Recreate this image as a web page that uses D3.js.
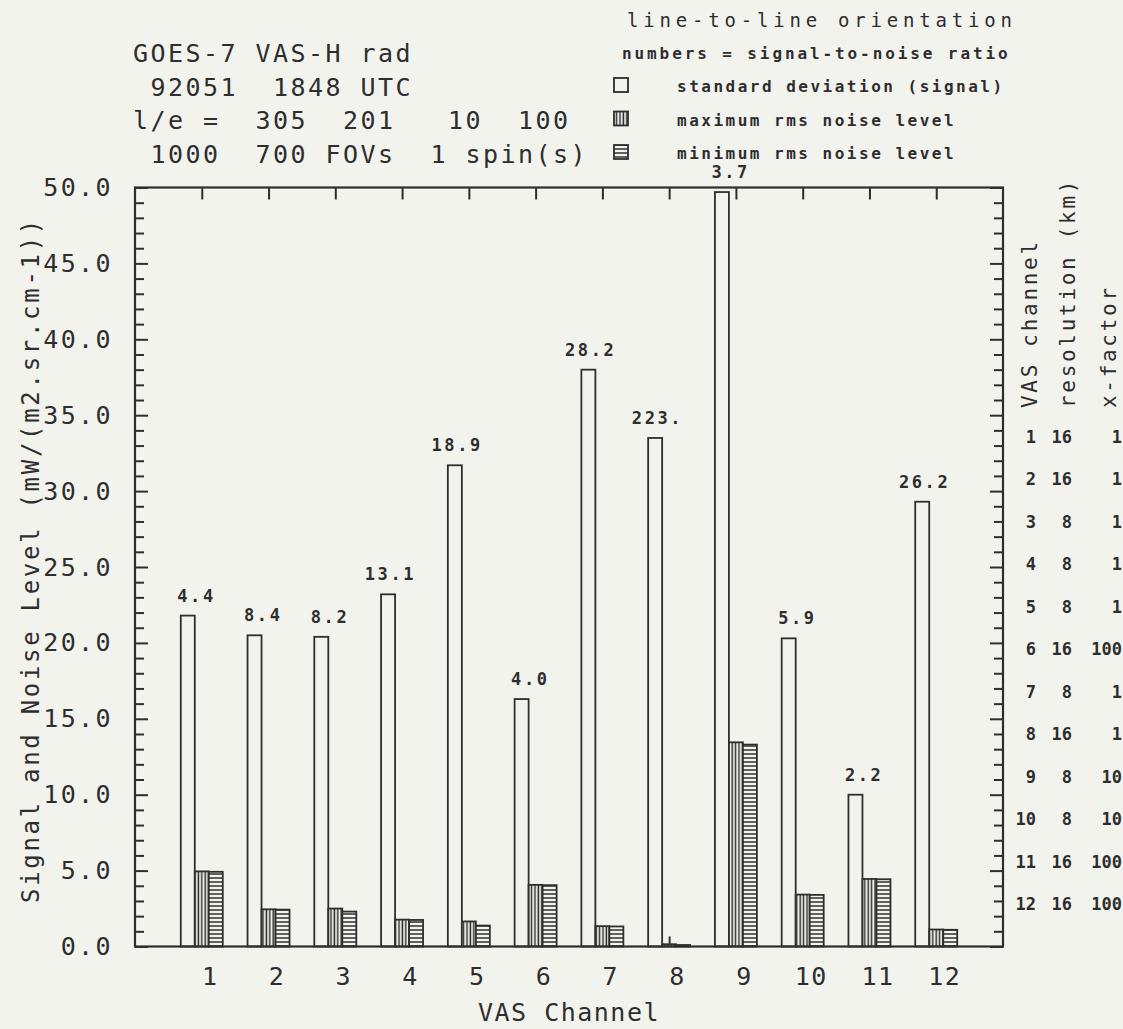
<!DOCTYPE html>
<html>
<head>
<meta charset="utf-8">
<script src="https://cdn.jsdelivr.net/npm/d3@7"></script>
<style>
  body { margin: 0; background: #f3f3ee; }
  svg text { font-family: "DejaVu Sans Mono", monospace; fill: #2e2e2e; white-space: pre; }
</style>
</head>
<body>
<svg id="chart" width="1123" height="1029"></svg>
<script>
// values
const channels   = [1, 2, 3, 4, 5, 6, 7, 8, 9, 10, 11, 12];
const signal     = [21.8, 20.5, 20.4, 23.2, 31.7, 16.3, 38.0, 33.5, 49.7, 20.3, 10.0, 29.3];
const maxNoise   = [4.95, 2.45, 2.5, 1.77, 1.65, 4.06, 1.34, 0.15, 13.45, 3.42, 4.45, 1.12];
const minNoise   = [4.92, 2.43, 2.3, 1.75, 1.38, 4.04, 1.32, 0.10, 13.3, 3.40, 4.43, 1.10];
const snrLabels  = ["4.4", "8.4", "8.2", "13.1", "18.9", "4.0", "28.2", "223.", "3.7", "5.9", "2.2", "26.2"];
const resolution = [16, 16, 8, 8, 8, 16, 8, 16, 8, 8, 16, 16];
const xFactor    = [1, 1, 1, 1, 1, 100, 1, 1, 10, 10, 100, 100];
const yMajor = d3.range(0, 50.01, 5);
const yMinor = d3.range(0, 51, 1).filter(v => v % 5 !== 0);

const headerLines = [
    "GOES-7 VAS-H rad",
    " 92051  1848 UTC",
    "l/e =  305  201   10  100",
    " 1000  700 FOVs  1 spin(s)"
];
const legendItems = [
    {key: "signal", label: "standard deviation (signal)"},
    {key: "max", label: "maximum rms noise level"},
    {key: "min", label: "minimum rms noise level"}
];

const ink = "#2e2e2e",
    paper = "#f3f3ee";

let svg = d3.select("#chart");

let x = d3.scaleLinear().domain([0, 13]).range([135, 1003]),
    y = d3.scaleLinear().domain([0, 50]).range([946.5, 187.5]);

let defs = svg.append("defs");
let vh = defs.append("pattern").attr("id", "vhatch")
    .attr("patternUnits", "userSpaceOnUse").attr("width", 3.4).attr("height", 10);
vh.append("rect").attr("width", 3.4).attr("height", 10).attr("fill", paper);
vh.append("line").attr("x1", 1.2).attr("x2", 1.2).attr("y1", 0).attr("y2", 10)
    .attr("stroke", ink).attr("stroke-width", 1.5);
let hh = defs.append("pattern").attr("id", "hhatch")
    .attr("patternUnits", "userSpaceOnUse").attr("width", 10).attr("height", 4);
hh.append("rect").attr("width", 10).attr("height", 4).attr("fill", paper);
hh.append("line").attr("x1", 0).attr("x2", 10).attr("y1", 2).attr("y2", 2)
    .attr("stroke", ink).attr("stroke-width", 1.5);

const fills = {signal: paper, max: "url(#vhatch)", min: "url(#hhatch)"};

function tickStyle(g) {
    g.select(".domain").remove();
    g.selectAll("line").attr("stroke", ink).attr("stroke-width", 2);
    g.selectAll("text").remove();
}

// bottom ticks first so the bars sit over them
svg.append("g").attr("transform", "translate(0," + y(0) + ")")
    .call(d3.axisTop(x).tickValues(channels).tickSize(10)).call(tickStyle);

// bars
let half = 21 / (x(1) - x(0)), step = 14 / (x(1) - x(0));
let groups = svg.append("g").selectAll("g").data(channels).enter().append("g");
[["signal", signal, 0], ["max", maxNoise, 1], ["min", minNoise, 2]].forEach(([key, vals, k]) => {
    groups.append("rect")
        .attr("x", (d, i) => x(d - half + k * step))
        .attr("width", x(step) - x(0))
        .attr("y", (d, i) => y(vals[i]))
        .attr("height", (d, i) => y(0) - y(vals[i]))
        .attr("fill", fills[key])
        .attr("stroke", ink)
        .attr("stroke-width", 1.8);
});

// signal-to-noise labels
groups.append("text")
    .attr("x", d => x(d - half + step / 2) + 28)
    .attr("y", (d, i) => y(signal[i]) - 14)
    .attr("text-anchor", "end")
    .style("font-size", "17px").style("font-weight", "bold").style("letter-spacing", "2.6px")
    .text((d, i) => snrLabels[i]);

// frame and ticks
svg.append("rect")
    .attr("x", x(0)).attr("y", y(50))
    .attr("width", x(13) - x(0)).attr("height", y(0) - y(50))
    .attr("fill", "none").attr("stroke", ink).attr("stroke-width", 2.2);

svg.append("g").attr("transform", "translate(" + x(0) + ",0)")
    .call(d3.axisRight(y).tickValues(yMajor).tickSize(13)).call(tickStyle);
svg.append("g").attr("transform", "translate(" + x(0) + ",0)")
    .call(d3.axisRight(y).tickValues(yMinor).tickSize(9)).call(tickStyle);
svg.append("g").attr("transform", "translate(" + x(13) + ",0)")
    .call(d3.axisLeft(y).tickValues(yMajor).tickSize(13)).call(tickStyle);
svg.append("g").attr("transform", "translate(" + x(13) + ",0)")
    .call(d3.axisLeft(y).tickValues(yMinor).tickSize(9)).call(tickStyle);
svg.append("g").attr("transform", "translate(0," + y(50) + ")")
    .call(d3.axisBottom(x).tickValues(channels).tickSize(12)).call(tickStyle);

// y tick labels
let yLab = svg.append("g").attr("transform", "translate(113,0)")
    .call(d3.axisLeft(y).tickValues(yMajor).tickSize(0).tickPadding(0).tickFormat(d3.format(".1f")));
yLab.select(".domain").remove();
yLab.selectAll("text").style("font-size", "25px").style("letter-spacing", "2.4px");

// x tick labels
let xLab = svg.append("g").attr("transform", "translate(8," + y(0) + ")")
    .call(d3.axisBottom(x).tickValues(channels).tickSize(0));
xLab.select(".domain").remove();
xLab.selectAll("text").attr("y", 38.5).attr("dy", 0)
    .style("font-size", "25px").style("letter-spacing", "1.5px");

// axis titles
svg.append("text")
    .attr("x", 569).attr("y", 1021).attr("text-anchor", "middle")
    .style("font-size", "25px").style("letter-spacing", "1.5px")
    .text("VAS Channel");
svg.append("text")
    .attr("transform", "translate(39,560) rotate(-90)").attr("text-anchor", "middle")
    .style("font-size", "24px").style("letter-spacing", "2.7px")
    .text("Signal and Noise Level (mW/(m2.sr.cm-1))");

// header block
svg.append("g").selectAll("text").data(headerLines).enter().append("text")
    .attr("x", 133).attr("y", (d, i) => 62 + i * 33.7)
    .style("font-size", "25px").style("letter-spacing", "2.45px")
    .text(d => d);

// legend
svg.append("text").attr("x", 627).attr("y", 27)
    .style("font-size", "19px").style("letter-spacing", "4.8px")
    .text("line-to-line orientation");
svg.append("text").attr("x", 622).attr("y", 59)
    .style("font-size", "16px").style("font-weight", "bold").style("letter-spacing", "2.9px")
    .text("numbers = signal-to-noise ratio");
let leg = svg.append("g").selectAll("g").data(legendItems).enter().append("g")
    .attr("transform", (d, i) => "translate(0," + [92, 125.5, 159][i] + ")");
leg.append("rect").attr("x", 614).attr("y", -14).attr("width", 14).attr("height", 14)
    .attr("fill", d => fills[d.key]).attr("stroke", ink).attr("stroke-width", 1.8);
leg.append("text").attr("x", 677).attr("y", 0)
    .style("font-size", "16px").style("font-weight", "bold").style("letter-spacing", "2.5px")
    .text(d => d.label);

// right-hand table
[["VAS channel", 1037], ["resolution (km)", 1075], ["x-factor", 1116]].forEach(([t, bx]) => {
    svg.append("text")
        .attr("transform", "translate(" + bx + ",408) rotate(-90)")
        .style("font-size", "21px").style("letter-spacing", "2.7px")
        .text(t);
});
let row = d3.scaleLinear().domain([1, 12]).range([443, 910]);
let rows = svg.append("g").selectAll("g").data(channels).enter().append("g")
    .attr("transform", d => "translate(0," + row(d) + ")")
    .style("font-size", "17px").style("font-weight", "bold");
rows.append("text").attr("x", 1036).attr("text-anchor", "end").text(d => d);
rows.append("text").attr("x", 1072).attr("text-anchor", "end").text((d, i) => resolution[i]);
rows.append("text").attr("x", 1122).attr("text-anchor", "end").text((d, i) => xFactor[i]);
</script>
</body>
</html>
